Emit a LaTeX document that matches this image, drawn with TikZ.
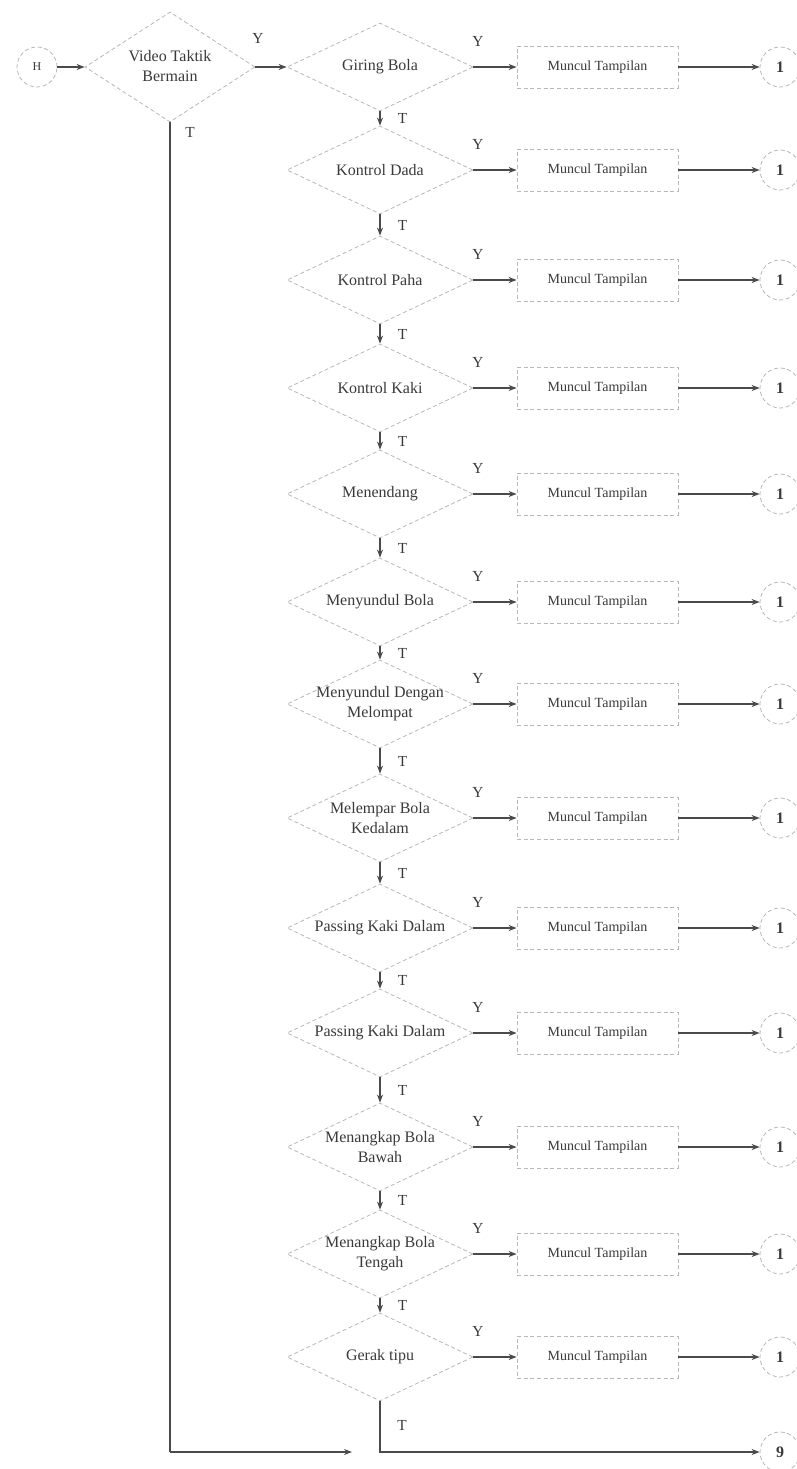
\documentclass[tikz,border=0pt]{standalone}
\usepackage{fontspec}
\setmainfont{Liberation Serif}
\usetikzlibrary{shapes.geometric,arrows.meta}
\definecolor{dashgray}{HTML}{B8B8B8}
\definecolor{arrowgray}{HTML}{4A4A4A}
\definecolor{txtgray}{HTML}{3A3A3A}
\begin{document}
\begin{tikzpicture}[x=0.75pt,y=-0.75pt,
  dec/.style={diamond, draw=dashgray, dash pattern=on 3pt off 2pt, line width=0.6pt,
    minimum width=139.5pt, minimum height=66pt, inner sep=0pt},
  bigdec/.style={dec, minimum width=127.5pt, minimum height=82.5pt},
  dectext/.style={font=\fontsize{12}{15}\selectfont, text=txtgray, align=center, inner sep=0pt},
  proc/.style={rectangle, draw=dashgray, dash pattern=on 3pt off 2pt, line width=0.6pt,
    minimum width=120.75pt, minimum height=31.5pt, inner sep=0pt,
    font=\fontsize{10.5}{12}\selectfont, text=txtgray},
  conn/.style={circle, draw=dashgray, dash pattern=on 3pt off 2pt, line width=0.6pt,
    minimum size=30pt, inner sep=0pt, font=\fontsize{12}{14}\selectfont\bfseries, text=txtgray},
  arr/.style={-{Stealth[length=6pt,width=4.5pt]}, draw=arrowgray, line width=0.9pt},
  ln/.style={draw=arrowgray, line width=0.9pt},
  yt/.style={font=\fontsize{11.5}{13}\selectfont, text=txtgray, inner sep=0pt}
]
\fill[white] (0,0) rectangle (796,1469);
\useasboundingbox (0,0) rectangle (796,1469);

% start
\node[conn, font=\fontsize{9}{10}\selectfont, minimum size=30pt] (h) at (37,67) {H};
\node[bigdec] (v) at (170,67) {};
\node[dectext] (vt) at (170,66) {Video Taktik\\Bermain};
\draw[arr] (h) -- (v.west);
\node[yt] (vy) at (258,38) {Y};
\node[yt] (vtl) at (190,132) {T};

% decisions
\foreach \i/\yy/\txt in {
  1/67/{Giring Bola},
  2/170/{Kontrol Dada},
  3/280/{Kontrol Paha},
  4/388/{Kontrol Kaki},
  5/494/{Menendang},
  6/602/{Menyundul Bola},
  7/704/{Menyundul Dengan\\Melompat},
  8/818/{Melempar Bola\\Kedalam},
  9/928/{Passing Kaki Dalam},
  10/1033/{Passing Kaki Dalam},
  11/1147/{Menangkap Bola\\Bawah},
  12/1254/{Menangkap Bola\\Tengah},
  13/1357/{Gerak tipu}} {
  \node[dec] (d\i) at (380,\yy) {};
  \node[dectext] (dt\i) at (380,\yy) {\txt};
  \node[proc] (p\i) at (597.5,\yy) {Muncul Tampilan};
  \node[conn] (c\i) at (780,\yy) {1};
  \draw[arr] (d\i.east) -- (p\i.west);
  \draw[arr] (p\i.east) -- (c\i.west);
  \node[yt] (y\i) at (478,\yy-26) {Y};
}

\draw[arr] (v.east) -- (d1.west);

\foreach \i [count=\j from 2] in {1,...,12} {
  \draw[arr] (d\i.south) -- node[yt, right=13pt] (t\i) {T} (d\j.north);
}

% end
\node[conn] (c9) at (780,1452) {9};
\coordinate (lend) at (352,1452);
\coordinate (lcorner) at (170,1452);
\coordinate (rcorner) at (380,1452);
\draw[ln] (v.south) -- (lcorner);
\draw[arr] (lcorner) -- (lend);
\draw[arr] (d13.south) -- (rcorner) -- (c9.west);
\node[yt] (t13) at (402,1425) {T};
\end{tikzpicture}
\end{document}
